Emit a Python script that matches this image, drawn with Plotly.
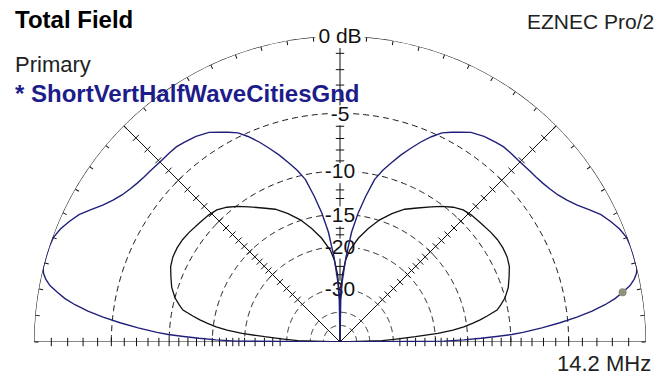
import numpy as np
import plotly.graph_objects as go

# ---- pattern data (elevation angle in degrees, gain in dB) ----
ELEV_PRIMARY = [0, 0.5, 1, 1.5, 2, 2.5, 3, 4, 5, 6, 7, 8, 9, 10, 11, 12, 13, 14, 16, 18,
                20, 22, 24, 26, 28, 30, 32, 34, 36, 38, 40, 42, 45, 48, 50, 52, 55, 58,
                60, 62, 64, 66, 68, 70, 72, 74, 76, 78, 80, 82, 84, 86, 88, 89, 90]
GAIN_PRIMARY = [-99, -18.5, -15.5, -13.3, -11.5, -9.9, -8.8, -7.1, -5.6, -4.3, -3.2, -2.3,
                -1.6, -1.1, -0.6, -0.3, -0.1, 0.0, 0.0, 0.0, -0.05, -0.25, -0.55, -0.9,
                -1.4, -1.9, -2.3, -2.6, -2.8, -2.95, -3.05, -3.1, -3.15, -3.15, -3.15,
                -3.25, -3.4, -3.66, -4.0, -4.35, -4.7, -5.3, -6.0, -6.8, -7.6, -8.5, -9.4,
                -10.5, -12.5, -14.7, -17.5, -22.0, -28.0, -34.0, -99]

ELEV_SECOND = [0, 2, 3, 4, 5, 6, 7, 8, 9, 10, 11.5, 13, 15, 18, 21, 24, 27, 30, 33, 36,
               40, 44, 47, 50, 53, 56, 60, 64, 68, 72, 76, 80, 84, 86, 88, 89.5, 90]
GAIN_SECOND = [-99, -34, -29, -24, -19.5, -17.0, -15.4, -14.2, -13.2, -12.3, -11.1, -10.6,
               -10.0, -9.4, -9.0, -8.6, -8.4, -8.35, -8.38, -8.5, -8.7, -8.85, -9.05, -9.5,
               -10.1, -10.8, -11.7, -12.5, -13.6, -14.9, -16.5, -18.3, -20.6, -22.5, -26,
               -34, -99]

CURSOR_ELEV = 10

# ---- scale rings and labels ----
RING_DB = [0, -5, -10, -15, -20, -30, -40, -50]
RING_LABELS = {0: "0 dB", -5: "-5", -10: "-10", -15: "-15", -20: "-20", -30: "-30"}
TICK_DB = list(range(-1, -21, -1)) + [-22, -24, -26, -28]

TITLE = "Total Field"
PROGRAM = "EZNEC Pro/2"
TRACE_GROUP = "Primary"
TRACE_NAME = "* ShortVertHalfWaveCitiesGnd"
FREQ_LABEL = "14.2 MHz"

# ---- layout constants ----
W, H = 665, 379
PX_X0, PX_X1 = 34, 646          # horizontal extent of the half disk
PX_Y0, PX_Y1 = 37, 343          # vertical extent (from bottom)
R_PX = (PX_X1 - PX_X0) / 2
FONT = "Arial, Liberation Sans, sans-serif"
LABEL_SIZE = 21
NAVY = "#20207a"
INK = "#111111"

CHAR_EM = {"-": 0.333, " ": 0.278, "d": 0.556, "B": 0.667}


def arrl(db):
    """ARRL log scale: radius shrinks by 0.89 for every 2 dB."""
    return 0.89 ** (-np.asarray(db, dtype=float) / 2.0)


def text_halfwidth(s):
    return 0.5 * LABEL_SIZE * sum(CHAR_EM.get(c, 0.556) for c in s)


def mirrored(elev, gain):
    theta = list(elev) + [180 - e for e in reversed(elev)]
    g = list(gain) + list(reversed(gain))
    return theta, arrl(g)


fig = go.Figure()
polar_common = dict(subplot="polar", showlegend=False, hoverinfo="skip", cliponaxis=False)

# dashed dB rings, opened where a label sits on the vertical axis
for db in RING_DB:
    r = float(arrl(db))
    if db in RING_LABELS:
        gap = np.degrees((text_halfwidth(RING_LABELS[db]) + 3) / (r * R_PX))
        th = np.concatenate([np.linspace(0, 90 - gap, 200), [np.nan],
                             np.linspace(90 + gap, 180, 200)])
    else:
        th = np.linspace(0, 180, 400)
    fig.add_trace(go.Scatterpolar(
        theta=th, r=np.full(th.shape, r), mode="lines", connectgaps=False,
        line=dict(color=INK, width=1.1 if db == 0 else 1,
                  dash="solid" if db == 0 else "6px,4px"),
        **polar_common))

# baseline and 45-degree spokes
fig.add_trace(go.Scatterpolar(theta=[0, 0, 180, 180], r=[1, 0, 0, 1], mode="lines",
                              line=dict(color=INK, width=1), **polar_common))
for ang in (45, 135):
    fig.add_trace(go.Scatterpolar(theta=[ang, ang], r=[0, 1], mode="lines",
                                  line=dict(color=INK, width=1), **polar_common))

# vertical axis, interrupted by the ring labels
label_r = {db: float(arrl(db)) - 2 / R_PX for db in RING_LABELS}
gaps = sorted((lr - 10 / R_PX, lr + 10 / R_PX) for lr in label_r.values())
vr, start = [], 0.0
for lo, hi in gaps:
    if lo > start:
        vr += [start, min(lo, 1.0), None]
    start = hi
fig.add_trace(go.Scatterpolar(theta=[90 if v is not None else None for v in vr], r=vr,
                              mode="lines", connectgaps=False,
                              line=dict(color=INK, width=1), **polar_common))

# small tick marks along the spokes and the baseline
tick_r = arrl(TICK_DB)
vert_ticks = [t for t in tick_r if not any(lo <= t <= hi for lo, hi in gaps)]
for ang, sym, rr in ((45, "line-nw", tick_r), (135, "line-ne", tick_r),
                     (90, "line-ew", vert_ticks), (0, "line-ns", tick_r),
                     (180, "line-ns", tick_r)):
    fig.add_trace(go.Scatterpolar(
        theta=[ang] * len(rr), r=list(rr), mode="markers",
        marker=dict(symbol=sym, size=6, line=dict(color=INK, width=1)),
        **polar_common))

# ring labels
fig.add_trace(go.Scatterpolar(
    theta=[90] * len(RING_LABELS), r=[label_r[d] for d in RING_LABELS],
    text=list(RING_LABELS.values()), mode="text", textposition="middle center",
    textfont=dict(family=FONT, size=LABEL_SIZE, color=INK), **polar_common))

# radiation patterns
th2, r2 = mirrored(ELEV_SECOND, GAIN_SECOND)
fig.add_trace(go.Scatterpolar(theta=th2, r=r2, mode="lines",
                              line=dict(color=INK, width=1.3), **polar_common))
th1, r1 = mirrored(ELEV_PRIMARY, GAIN_PRIMARY)
fig.add_trace(go.Scatterpolar(theta=th1, r=r1, mode="lines",
                              line=dict(color=NAVY, width=1.4), **polar_common))

# cursor marker on the primary trace
cursor_gain = GAIN_PRIMARY[ELEV_PRIMARY.index(CURSOR_ELEV)]
fig.add_trace(go.Scatterpolar(theta=[CURSOR_ELEV], r=[float(arrl(cursor_gain))],
                              mode="markers",
                              marker=dict(color="#8e927a", size=8), **polar_common))

fig.update_layout(
    width=W, height=H, margin=dict(l=0, r=0, t=0, b=0),
    paper_bgcolor="white", plot_bgcolor="white",
    polar=dict(
        domain=dict(x=[PX_X0 / W, PX_X1 / W], y=[PX_Y0 / H, PX_Y1 / H]),
        sector=[0, 180], hole=0, bgcolor="white",
        radialaxis=dict(range=[0, 1], showline=False, showgrid=False,
                        showticklabels=False, ticks=""),
        angularaxis=dict(rotation=0, direction="counterclockwise", showgrid=False,
                         showline=False, showticklabels=False, ticks="inside",
                         ticklen=4, tickwidth=1, tickcolor=INK,
                         tickvals=[a for a in range(0, 181, 5) if a != 90]),
    ),
    annotations=[
        dict(text=f"<b>{TITLE}</b>", x=13 / W, y=1 - 19 / H, xref="paper", yref="paper",
             xanchor="left", yanchor="middle", showarrow=False,
             font=dict(family=FONT, size=24, color="black")),
        dict(text=PROGRAM, x=656 / W, y=1 - 21 / H, xref="paper", yref="paper",
             xanchor="right", yanchor="middle", showarrow=False,
             font=dict(family=FONT, size=21, color="#222222")),
        dict(text=TRACE_GROUP, x=13 / W, y=1 - 65 / H, xref="paper", yref="paper",
             xanchor="left", yanchor="middle", showarrow=False,
             font=dict(family=FONT, size=22, color="#222222")),
        dict(text=f"<b>{TRACE_NAME}</b>", x=13 / W, y=1 - 94 / H, xref="paper",
             yref="paper", xanchor="left", yanchor="middle", showarrow=False,
             font=dict(family=FONT, size=24, color="#1c1c8a")),
        dict(text=FREQ_LABEL, x=653 / W, y=1 - 363 / H, xref="paper", yref="paper",
             xanchor="right", yanchor="middle", showarrow=False,
             font=dict(family=FONT, size=22, color="#222222")),
    ],
)

fig.write_html("out.html")
